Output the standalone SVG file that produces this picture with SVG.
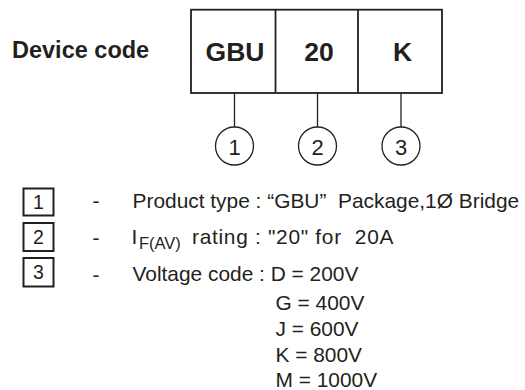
<svg xmlns="http://www.w3.org/2000/svg" width="525" height="390" viewBox="0 0 525 390">
<style>
text{font-family:"Liberation Sans",Arial,sans-serif;fill:#231f20;white-space:pre}
.b{font-weight:bold}
.frame{fill:none;stroke:#231f20;stroke-width:1.8}
.conn{stroke:#231f20;stroke-width:1.3;fill:none}
.circ{fill:#fff;stroke:#231f20;stroke-width:1.3}
.sq{fill:#fff;stroke:#231f20;stroke-width:2}
.t{font-size:20.9px}
</style>
<rect width="525" height="390" fill="#fff"/>
<text class="b" x="12" y="57.7" font-size="23.5">Device code</text>
<g id="code-box">
<rect class="frame" x="191" y="9.7" width="251" height="83.3"/>
<line class="frame" x1="275.5" y1="9.7" x2="275.5" y2="93"/>
<line class="frame" x1="358" y1="9.7" x2="358" y2="93"/>
</g>
<g id="cell-gbu"><text class="b" x="235" y="61" font-size="26.5" text-anchor="middle">GBU</text></g>
<g id="cell-20"><text class="b" x="319" y="61" font-size="26.5" text-anchor="middle">20</text></g>
<g id="cell-k"><text class="b" x="402.5" y="61" font-size="26.5" text-anchor="middle">K</text></g>
<g id="connectors">
<line class="conn" x1="234.5" y1="93" x2="234.5" y2="127"/>
<line class="conn" x1="317.5" y1="93" x2="317.5" y2="127"/>
<line class="conn" x1="401" y1="93" x2="401" y2="127"/>
</g>
<g id="c1"><circle class="circ" cx="234.5" cy="146" r="19"/><text x="234.5" y="155" font-size="22" text-anchor="middle">1</text></g>
<g id="c2"><circle class="circ" cx="317.5" cy="146" r="19"/><text x="317.5" y="155" font-size="22" text-anchor="middle">2</text></g>
<g id="c3"><circle class="circ" cx="401" cy="146" r="19"/><text x="401" y="155" font-size="22" text-anchor="middle">3</text></g>
<g id="legend1">
<rect class="sq" x="23.5" y="188.5" width="30" height="27"/>
<text x="38.5" y="208.5" font-size="19.5" text-anchor="middle">1</text>
<text class="t" x="92.5" y="208">-</text>
<text class="t" x="132.5" y="208">Product type : “GBU”  Package,1Ø Bridge</text>
</g>
<g id="legend2">
<rect class="sq" x="23.5" y="223" width="30" height="28"/>
<text x="38.5" y="243.5" font-size="19.5" text-anchor="middle">2</text>
<text class="t" x="92.5" y="244.5">-</text>
<text class="t" x="131.5" y="244">I</text>
<text x="139" y="249" font-size="16.5">F(AV)</text>
<text class="t" x="192" y="244" letter-spacing="0.7">rating : "20" for  20A</text>
</g>
<g id="legend3">
<rect class="sq" x="23.5" y="258" width="30" height="28.5"/>
<text x="38.5" y="279" font-size="19.5" text-anchor="middle">3</text>
<text class="t" x="92.5" y="281.5">-</text>
<text class="t" x="132.5" y="281">Voltage code : D = 200V</text>
<text class="t" x="275.5" y="310">G = 400V</text>
<text class="t" x="275.5" y="336">J = 600V</text>
<text class="t" x="275.5" y="362">K = 800V</text>
<text class="t" x="275.5" y="387">M = 1000V</text>
</g>
</svg>
